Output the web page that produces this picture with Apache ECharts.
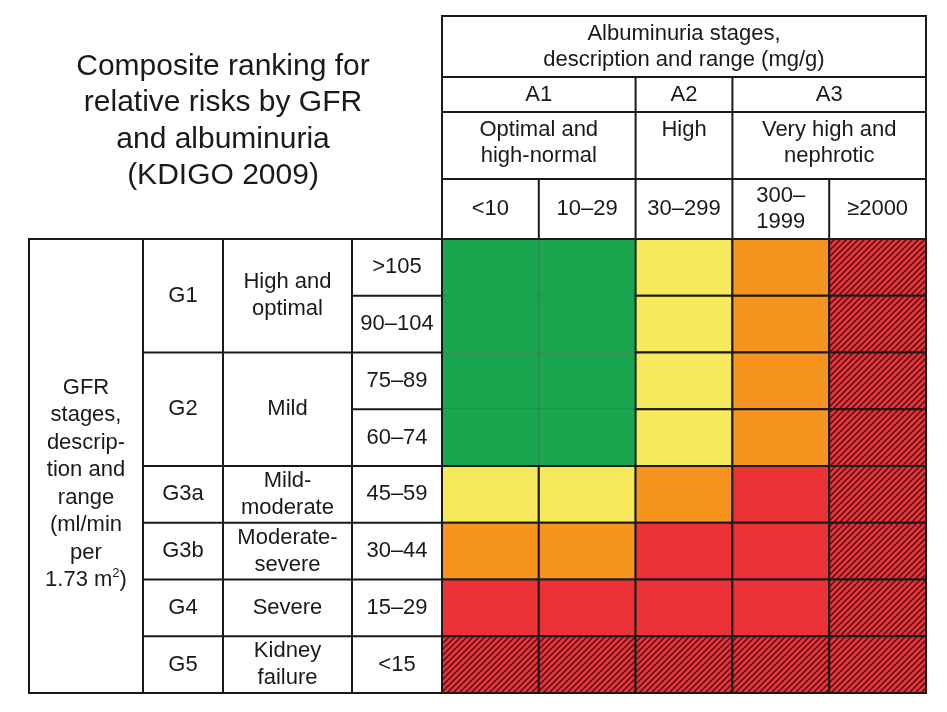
<!DOCTYPE html>
<html>
<head>
<meta charset="utf-8">
<title>KDIGO 2009 composite ranking</title>
<script src="https://cdn.jsdelivr.net/npm/echarts@6/dist/echarts.min.js"></script>
<style>
  html, body { margin: 0; padding: 0; background: #fff; }
  #chart { width: 947px; height: 712px; }
</style>
</head>
<body>
<div id="chart"></div>
<script>
// albuminuria columns (x) and GFR rows (y)
var albRanges = ['<10', '10\u201329', '30\u2013299', '300\u2013\n1999', '\u22652000'];
var albStages = ['A1', 'A2', 'A3'];
var albSpans = [2, 1, 2];
var albDesc = ['Optimal and\nhigh-normal', 'High', 'Very high and\nnephrotic'];

var gfrRanges = ['>105', '90\u2013104', '75\u201389', '60\u201374', '45\u201359', '30\u201344', '15\u201329', '<15'];
var gfrStages = ['G1', 'G2', 'G3a', 'G3b', 'G4', 'G5'];
var gfrSpans = [2, 2, 1, 1, 1, 1];
var gfrDesc = ['High and\noptimal', 'Mild', 'Mild-\nmoderate', 'Moderate-\nsevere', 'Severe', 'Kidney\nfailure'];

// risk level per cell: 0 green, 1 yellow, 2 orange, 3 red, 4 red hatched
var riskGrid = [
  [0, 0, 1, 2, 4],
  [0, 0, 1, 2, 4],
  [0, 0, 1, 2, 4],
  [0, 0, 1, 2, 4],
  [1, 1, 2, 3, 4],
  [2, 2, 3, 3, 4],
  [3, 3, 3, 3, 4],
  [4, 4, 4, 4, 4]
];

// layout
var FONT = '"Liberation Sans", Arial, Helvetica, sans-serif';
var FS = 22;
var INK = '#1a1a1a';
var GL = 442, GT = 239, GR = 926, GB = 693;   // matrix box
var HT = 16, HR1 = 77, HR2 = 112, HR3 = 179;  // header rows
var LX = [29, 143, 223, 352];                 // left table columns
var colW = (GR - GL) / albRanges.length;
var rowH = (GB - GT) / gfrRanges.length;

// hatch pattern for the highest risk cells
function hatch() {
  var c = document.createElement('canvas');
  c.width = 6; c.height = 6;
  var ctx = c.getContext('2d');
  ctx.fillStyle = '#ec3237';
  ctx.fillRect(0, 0, 6, 6);
  ctx.strokeStyle = '#4a1212';
  ctx.lineWidth = 1.5;
  ctx.beginPath();
  ctx.moveTo(0, 6); ctx.lineTo(6, 0);
  ctx.moveTo(-1, 1); ctx.lineTo(1, -1);
  ctx.moveTo(5, 7); ctx.lineTo(7, 5);
  ctx.stroke();
  return c;
}
var levelFill = ['#1aa64f', '#f6e95c', '#f7941f', '#ec3237', { image: hatch(), repeat: 'repeat' }];

var cells = [];
riskGrid.forEach(function (row, r) {
  row.forEach(function (lv, c) { cells.push([c, r, lv]); });
});

var g = [];
function line(x1, y1, x2, y2, w) {
  g.push({ type: 'line', shape: { x1: x1, y1: y1, x2: x2, y2: y2 },
    style: { stroke: INK, lineWidth: w || 2 }, z: 10 });
}
function label(x, y, txt, extra) {
  var st = { text: txt, x: x, y: y, fill: INK, font: FS + 'px ' + FONT,
    align: 'center', verticalAlign: 'middle', lineHeight: 26 };
  for (var k in extra) st[k] = extra[k];
  g.push({ type: 'text', style: st, z: 11 });
}

// header table
g.push({ type: 'rect', shape: { x: GL, y: HT, width: GR - GL, height: GT - HT },
  style: { fill: 'none', stroke: INK, lineWidth: 2 }, z: 10 });
line(GL, HR1, GR, HR1);
line(GL, HR2, GR, HR2);
line(GL, HR3, GR, HR3);
label((GL + GR) / 2, (HT + HR1) / 2, 'Albuminuria stages,\ndescription and range (mg/g)');
var c0 = 0;
albStages.forEach(function (s, i) {
  var x1 = GL + c0 * colW, x2 = GL + (c0 + albSpans[i]) * colW;
  if (i > 0) line(x1, HR1, x1, GT);
  for (var k = 1; k < albSpans[i]; k++) line(x1 + k * colW, HR3, x1 + k * colW, GT);
  label((x1 + x2) / 2, (HR1 + HR2) / 2, s);
  label((x1 + x2) / 2, HR2 + 5, albDesc[i], { verticalAlign: 'top' });
  c0 += albSpans[i];
});

// left table
g.push({ type: 'rect', shape: { x: LX[0], y: GT, width: GL - LX[0], height: GB - GT },
  style: { fill: 'none', stroke: INK, lineWidth: 2 }, z: 10 });
line(LX[1], GT, LX[1], GB);
line(LX[2], GT, LX[2], GB);
line(LX[3], GT, LX[3], GB);
g.push({ type: 'text', z: 11, style: {
  text: 'GFR\nstages,\ndescrip-\ntion and\nrange\n(ml/min\nper\n1.73 m{sup|2})',
  x: (LX[0] + LX[1]) / 2, y: 484, fill: INK, font: FS + 'px ' + FONT,
  align: 'center', verticalAlign: 'middle', lineHeight: 27.5,
  rich: { sup: { fontSize: 13, fontFamily: FONT, verticalAlign: 'top', lineHeight: 27.5, fill: INK } }
} });
var r0 = 0;
gfrStages.forEach(function (s, i) {
  var y1 = GT + r0 * rowH, y2 = GT + (r0 + gfrSpans[i]) * rowH;
  if (i > 0) line(LX[1], y1, GL, y1);
  for (var k = 1; k < gfrSpans[i]; k++) line(LX[3], y1 + k * rowH, GL, y1 + k * rowH);
  label((LX[1] + LX[2]) / 2, (y1 + y2) / 2, s);
  label((LX[2] + LX[3]) / 2, (y1 + y2) / 2, gfrDesc[i], { lineHeight: 27 });
  r0 += gfrSpans[i];
});

var chart = echarts.init(document.getElementById('chart'), null, { renderer: 'canvas' });
chart.setOption({
  animation: false,
  backgroundColor: '#fff',
  title: {
    text: 'Composite ranking for\nrelative risks by GFR\nand albuminuria\n(KDIGO 2009)',
    left: 218, top: 43, textAlign: 'center',
    textStyle: { fontFamily: FONT, fontSize: 30, fontWeight: 'normal', color: INK, lineHeight: 36.5 }
  },
  grid: { left: GL, top: GT, right: 947 - GR, bottom: 712 - GB },
  xAxis: {
    type: 'category', position: 'top', data: albRanges,
    axisLine: { show: false }, axisTick: { show: false }, splitLine: { show: false },
    axisLabel: { margin: 30, verticalAlign: 'middle', fontFamily: FONT, fontSize: FS,
      color: INK, lineHeight: 26, interval: 0 }
  },
  yAxis: {
    type: 'category', inverse: true, data: gfrRanges,
    axisLine: { show: false }, axisTick: { show: false }, splitLine: { show: false },
    axisLabel: { margin: (GL - LX[3]) / 2, align: 'center', fontFamily: FONT, fontSize: FS,
      color: INK, interval: 0 }
  },
  graphic: g,
  series: [{
    type: 'custom',
    data: cells,
    renderItem: function (params, api) {
      var p = api.coord([api.value(0), api.value(1)]);
      var s = api.size([1, 1]);
      var lv = api.value(2);
      return {
        type: 'rect',
        shape: { x: p[0] - s[0] / 2, y: p[1] - s[1] / 2, width: s[0], height: s[1] },
        style: { fill: levelFill[lv], stroke: lv === 0 ? 'rgba(20,60,30,0.25)' : INK,
          lineWidth: lv === 0 ? 1 : 2 },
        z2: lv === 0 ? 0 : 1
      };
    }
  }]
});
</script>
</body>
</html>
